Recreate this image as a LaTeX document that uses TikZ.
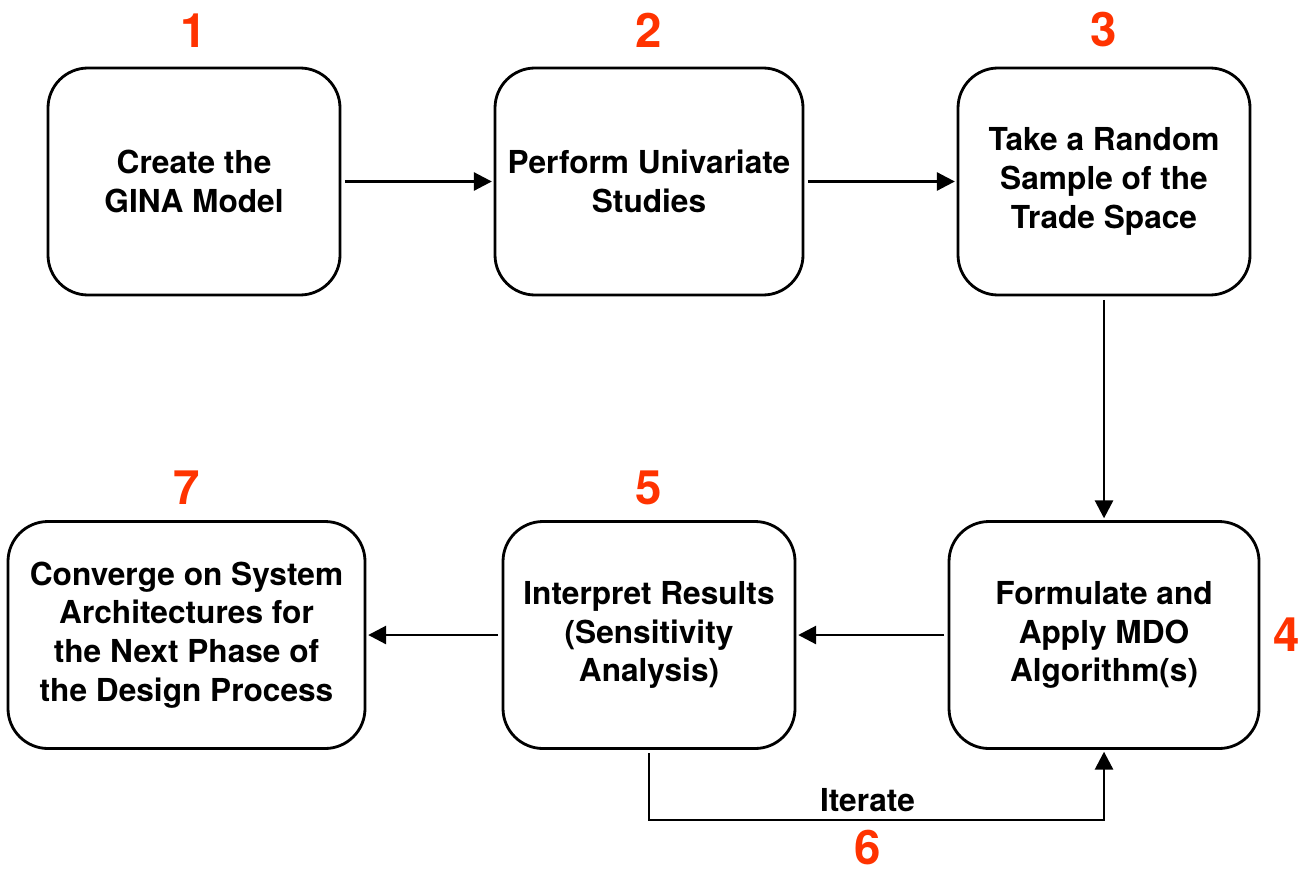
\documentclass[tikz,border=0pt]{standalone}
\usepackage{fontspec}
\setmainfont{TeX Gyre Heros}
\usetikzlibrary{arrows.meta,positioning}
\definecolor{stepred}{RGB}{255,51,0}

\begin{document}
\begin{tikzpicture}[%
	node distance=4.55cm,on grid,>={Triangle[length=1.8mm,width=1.8mm]},
	phase/.style={draw,line width=0.8pt,rounded corners=4mm,align=center,
		minimum height=2.27cm,font=\fontsize{9}{11}\selectfont\bfseries},
	num/.style={text=stepred,inner sep=0pt,font=\fontsize{13.5}{15}\selectfont\bfseries},
	link/.style={->,line width=0.8pt,shorten <=1pt,shorten >=0.5pt}]

	\useasboundingbox (0,0) rectangle (13.06,8.71);

	\node[phase,minimum width=2.92cm]	(GINA)	at (1.94,6.895)			{Create the\\GINA Model};
	\node[phase,minimum width=3.08cm]	(UNI)	[right=of GINA]			{Perform Univariate\\Studies};
	\node[phase,minimum width=2.92cm]	(TRADE)	[right=of UNI]			{Take a Random\\Sample of the\\Trade Space};
	\node[phase,minimum width=3.10cm]	(FORM)	[below=4.535cm of TRADE]	{Formulate and\\Apply MDO\\Algorithm(s)};
	\node[phase,minimum width=2.92cm]	(INTERP)	[below=4.535cm of UNI]	{Interpret Results\\(Sensitivity\\Analysis)};
	\node[phase,minimum width=3.57cm]	(CONV)	[left=4.625cm of INTERP]	{Converge on System\\Architectures for\\the Next Phase of\\the Design Process};

	% step numbers
	\node[num]	(n1)	[above=1.85mm of GINA.north]	{1};
	\node[num]	(n2)	[above=1.85mm of UNI.north]		{2};
	\node[num]	(n3)	[above=1.85mm of TRADE.north]	{3};
	\node[num]	(n4)	[right=1.2mm of FORM.east]		{4};
	\node[num]	(n5)	[above=1.45mm of INTERP.north]	{5};
	\node[num]	(n7)	[above=1.45mm of CONV.north]	{7};

	\draw[link] (GINA)  -- (UNI);
	\draw[link] (UNI)   -- (TRADE);
	\draw[link] (TRADE) -- (FORM);
	\draw[link] (FORM)  -- (INTERP);
	\draw[link] (INTERP) -- (CONV);
	\draw[link] (INTERP.south) -- ++(0,-0.70)
		-| node[pos=0.24,above=1.5pt,inner sep=0.5pt,font=\fontsize{9}{11}\selectfont\bfseries] {Iterate}
		node[num,pos=0.24,below=0.9mm] (n6) {6}
		(FORM.south);

\end{tikzpicture}
\end{document}
